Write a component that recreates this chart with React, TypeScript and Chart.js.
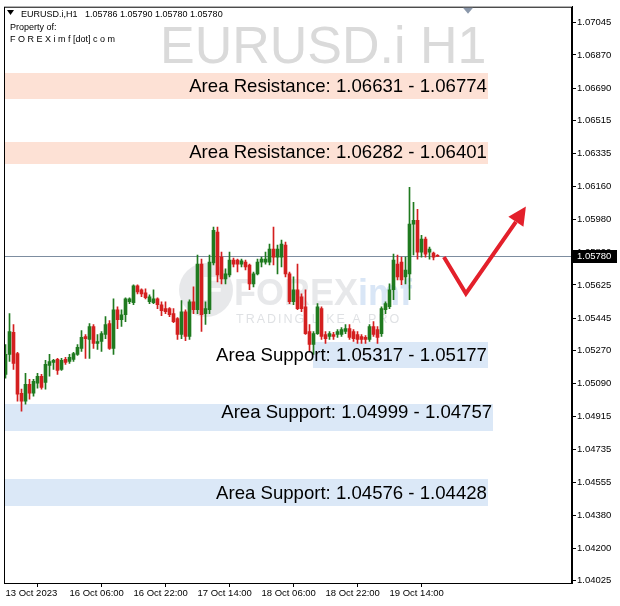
import React, { useEffect, useRef } from "react";
import { Chart, registerables } from "chart.js";

Chart.register(...registerables);

const FONT = "'Liberation Sans', Arial, sans-serif";

// ---- header / titles ----
const symbolTitle = "EURUSD.i,H1";
const headerPrices = "1.05786 1.05790 1.05780 1.05780";
const ownerLine1 = "Property of:";
const ownerLine2 = "F O R E X i m f [dot] c o m";
const watermarkText = "EURUSD.i H1";

// ---- H1 candles (13 Oct 2023 14:00 -> 20 Oct 02:00) ----
const opens = [
  1.05141, 1.05249, 1.05368, 1.05254, 1.05039, 1.04996, 1.05087, 1.05039, 1.05093, 1.05131,
  1.05098, 1.0519, 1.05206, 1.05222, 1.05168, 1.05222, 1.05211, 1.05222, 1.05249, 1.05282,
  1.05346, 1.0533, 1.054, 1.05308, 1.05319, 1.05357, 1.05416, 1.05282, 1.05491, 1.05437,
  1.05464, 1.05534, 1.05529, 1.0562, 1.05599, 1.05583, 1.05534, 1.05529, 1.0555, 1.05518,
  1.05497, 1.05497, 1.0547, 1.05443, 1.05357, 1.0548, 1.05346, 1.05534, 1.05491, 1.05738,
  1.0547, 1.05491, 1.05744, 1.05911, 1.05776, 1.05658, 1.05679, 1.0576, 1.0576, 1.05738,
  1.05749, 1.05733, 1.05631, 1.05685, 1.05749, 1.05749, 1.05749, 1.05819, 1.05776, 1.05776,
  1.05841, 1.05685, 1.05534, 1.05599, 1.05561, 1.05507, 1.05373, 1.05303, 1.05362, 1.05497,
  1.05357, 1.05346, 1.05357, 1.05357, 1.05357, 1.05373, 1.05389, 1.05373, 1.05357, 1.05346,
  1.05341, 1.0533, 1.054, 1.05384, 1.05362, 1.05491, 1.05507, 1.05599, 1.05738, 1.05749,
  1.05669, 1.05685, 1.05954, 1.05975, 1.05803, 1.05873, 1.05803, 1.05798, 1.05786,
];
const highs = [
  1.05303, 1.0547, 1.05411, 1.0526, 1.05061, 1.05147, 1.05114, 1.05114, 1.05147, 1.05141,
  1.05217, 1.05249, 1.05222, 1.05228, 1.05228, 1.05233, 1.05249, 1.0526, 1.05303, 1.05378,
  1.05357, 1.05416, 1.05411, 1.05357, 1.05373, 1.05454, 1.05432, 1.0555, 1.05507, 1.05491,
  1.05556, 1.05556, 1.05626, 1.05626, 1.05604, 1.05604, 1.05572, 1.05599, 1.05556, 1.05534,
  1.05534, 1.05502, 1.05497, 1.05448, 1.0554, 1.05491, 1.05545, 1.05615, 1.05787, 1.05765,
  1.05534, 1.05787, 1.05938, 1.05938, 1.05803, 1.05712, 1.05803, 1.05771, 1.05765, 1.05765,
  1.0576, 1.05738, 1.05695, 1.05765, 1.05776, 1.05803, 1.05846, 1.05938, 1.05841, 1.05868,
  1.05857, 1.05695, 1.05669, 1.05738, 1.05577, 1.05599, 1.05411, 1.05373, 1.05524, 1.05507,
  1.05373, 1.05373, 1.05368, 1.05384, 1.05394, 1.05411, 1.05411, 1.05384, 1.05373, 1.05357,
  1.05351, 1.05411, 1.05427, 1.054, 1.05507, 1.05534, 1.05631, 1.05792, 1.05787, 1.05776,
  1.05776, 1.06153, 1.06072, 1.06034, 1.05894, 1.05884, 1.0583, 1.05803, 1.0579,
];
const lows = [
  1.0512, 1.05211, 1.05168, 1.04996, 1.04942, 1.0498, 1.05007, 1.05023, 1.05066, 1.05061,
  1.05061, 1.05131, 1.05168, 1.05141, 1.05163, 1.05195, 1.05201, 1.05211, 1.05244, 1.05265,
  1.05228, 1.05228, 1.05282, 1.05276, 1.05265, 1.05335, 1.05276, 1.05249, 1.05389, 1.054,
  1.05427, 1.05524, 1.05518, 1.05577, 1.05561, 1.0555, 1.05524, 1.05524, 1.05497, 1.05459,
  1.0547, 1.05454, 1.05421, 1.0533, 1.05335, 1.05324, 1.0533, 1.0547, 1.0547, 1.05373,
  1.05411, 1.0547, 1.05733, 1.05642, 1.05631, 1.05631, 1.05669, 1.05722, 1.05695, 1.05722,
  1.05706, 1.05599, 1.05615, 1.05679, 1.05722, 1.05738, 1.05733, 1.05733, 1.05685, 1.05722,
  1.05669, 1.05524, 1.05518, 1.05491, 1.0548, 1.05357, 1.05265, 1.05249, 1.05357, 1.0533,
  1.05308, 1.0533, 1.0533, 1.05341, 1.05346, 1.05362, 1.0533, 1.05319, 1.05308, 1.05308,
  1.05308, 1.05319, 1.05346, 1.05308, 1.05346, 1.0547, 1.05497, 1.05545, 1.05652, 1.05626,
  1.05631, 1.05545, 1.05787, 1.05765, 1.05776, 1.05776, 1.05765, 1.0576, 1.0578,
];
const closes = [
  1.05249, 1.05373, 1.05201, 1.05034, 1.04996, 1.05087, 1.05039, 1.05104, 1.05131, 1.05071,
  1.05195, 1.05211, 1.05217, 1.05163, 1.05217, 1.05206, 1.05233, 1.05254, 1.05287, 1.05341,
  1.05335, 1.054, 1.05308, 1.05319, 1.05362, 1.05411, 1.05282, 1.05491, 1.05437, 1.05464,
  1.0555, 1.0555, 1.0562, 1.05588, 1.05577, 1.05556, 1.05561, 1.0555, 1.05518, 1.05486,
  1.0548, 1.05464, 1.05427, 1.05357, 1.0548, 1.05346, 1.05534, 1.05491, 1.05738, 1.05464,
  1.05497, 1.05749, 1.05921, 1.05679, 1.05658, 1.05685, 1.0576, 1.05738, 1.05738, 1.05755,
  1.05722, 1.05631, 1.05685, 1.05749, 1.05765, 1.05765, 1.05819, 1.05776, 1.05819, 1.05846,
  1.05685, 1.05534, 1.05599, 1.05497, 1.05497, 1.05362, 1.05303, 1.05362, 1.05507, 1.05346,
  1.05335, 1.05362, 1.05346, 1.05373, 1.05384, 1.05389, 1.05341, 1.05335, 1.0533, 1.0533,
  1.0533, 1.054, 1.05357, 1.05341, 1.05497, 1.05524, 1.05599, 1.0576, 1.05669, 1.05652,
  1.05706, 1.05954, 1.05975, 1.05803, 1.05873, 1.05792, 1.05819, 1.05776, 1.0578,
];

// ---- axes ----
const xTickIndex = [0, 16, 32, 48, 64, 80, 96];
const xTickLabels = [
  "13 Oct 2023",
  "16 Oct 06:00",
  "16 Oct 22:00",
  "17 Oct 14:00",
  "18 Oct 06:00",
  "18 Oct 22:00",
  "19 Oct 14:00",
];
const yTickValues = [
  1.07045, 1.0687, 1.0669, 1.06515, 1.06335, 1.0616, 1.0598, 1.058, 1.05625, 1.05445,
  1.0527, 1.0509, 1.04915, 1.04735, 1.04555, 1.0438, 1.042, 1.04025,
];
const xMin = -0.375;
const xMax = 141.625;
const yMin = 1.04012;
const yMax = 1.07131;
const currentPrice = 1.0578;

// ---- zones ----
const zoneLabels = [
  "Area Resistance: 1.06631 - 1.06774",
  "Area Resistance: 1.06282 - 1.06401",
  "Area Support: 1.05317 - 1.05177",
  "Area Support: 1.04999 - 1.04757",
  "Area Support: 1.04576 - 1.04428",
];
const zoneIsResistance = [true, true, false, false, false];
const zoneLow = [1.06631, 1.06282, 1.05177, 1.04835, 1.04428];
const zoneHigh = [1.06774, 1.06401, 1.05317, 1.0498, 1.04576];
const zoneStart = [-0.375, -0.375, 76.9, -0.375, -0.375];
const zoneEnd = [120.6, 120.6, 120.6, 121.9, 120.6];
const zoneLabelPrice = [1.06695, 1.06338, 1.05242, 1.04932, 1.04497];

// ---- projected arrow ----
const arrowX = [109.6, 115.1, 127.6];
const arrowY = [1.05776, 1.05579, 1.05967];
const arrowTipX = 130.1;
const arrowTipY = 1.0605;

const GREEN = "#1f7a1f";
const RED = "#d41f1f";
const ARROW = "#e3202b";

const overlay = {
  id: "overlay",
  beforeDatasetsDraw(chart: any) {
    const { ctx, chartArea: a, scales } = chart;
    const x = scales.x;
    const y = scales.y;
    ctx.save();
    ctx.beginPath();
    ctx.rect(a.left, a.top, a.right - a.left, a.bottom - a.top);
    ctx.clip();

    // big symbol watermark
    ctx.font = `52px ${FONT}`;
    ctx.fillStyle = "#dadada";
    ctx.textAlign = "left";
    ctx.textBaseline = "alphabetic";
    ctx.fillText(watermarkText, 160, 63);

    // zones
    for (let i = 0; i < zoneLabels.length; i++) {
      const x0 = x.getPixelForValue(zoneStart[i]);
      const x1 = x.getPixelForValue(zoneEnd[i]);
      const y0 = y.getPixelForValue(zoneHigh[i]);
      const y1 = y.getPixelForValue(zoneLow[i]);
      ctx.fillStyle = zoneIsResistance[i] ? "#fde1d5" : "#dbe8f7";
      ctx.fillRect(Math.round(x0), Math.round(y0), Math.round(x1 - x0), Math.round(y1 - y0));
    }

    // logo watermark
    ctx.fillStyle = "rgba(185,188,196,0.35)";
    ctx.beginPath();
    ctx.arc(206, 290, 27, 0, Math.PI * 2);
    ctx.fill();
    ctx.fillStyle = "rgba(255,255,255,0.85)";
    ctx.font = `bold 34px ${FONT}`;
    ctx.textAlign = "center";
    ctx.textBaseline = "middle";
    ctx.fillText("F", 212, 291);
    ctx.textAlign = "left";
    ctx.textBaseline = "alphabetic";
    ctx.font = `bold 36px ${FONT}`;
    ctx.fillStyle = "rgba(185,188,196,0.35)";
    ctx.fillText("FOREX", 234, 305);
    const w = ctx.measureText("FOREX").width;
    ctx.fillStyle = "rgba(170,200,235,0.45)";
    ctx.fillText("imf", 234 + w, 305);
    ctx.font = `12.5px ${FONT}`;
    (ctx as any).letterSpacing = "2px";
    ctx.fillStyle = "rgba(185,188,196,0.45)";
    ctx.fillText("TRADING LIKE A PRO", 236, 323);
    (ctx as any).letterSpacing = "0px";

    // current price line
    const py = Math.round(y.getPixelForValue(currentPrice)) + 0.5;
    ctx.strokeStyle = "#7d8da0";
    ctx.lineWidth = 1;
    ctx.beginPath();
    ctx.moveTo(a.left, py);
    ctx.lineTo(a.right, py);
    ctx.stroke();
    ctx.restore();
  },
  afterDatasetsDraw(chart: any) {
    const { ctx, scales } = chart;
    const x = scales.x;
    const y = scales.y;
    ctx.save();
    // zone labels
    ctx.font = `18.6px ${FONT}`;
    ctx.fillStyle = "#000000";
    ctx.textAlign = "right";
    ctx.textBaseline = "middle";
    for (let i = 0; i < zoneLabels.length; i++) {
      const xr = x.getPixelForValue(zoneEnd[i]) - 1;
      const ym = y.getPixelForValue(zoneLabelPrice[i]);
      ctx.fillText(zoneLabels[i], xr, ym);
    }
    // arrow head
    const n = arrowX.length - 1;
    const bx = x.getPixelForValue(arrowX[n]);
    const by = y.getPixelForValue(arrowY[n]);
    const tx = x.getPixelForValue(arrowTipX);
    const ty = y.getPixelForValue(arrowTipY);
    const dx = tx - bx;
    const dy = ty - by;
    const len = Math.hypot(dx, dy) || 1;
    const nx = -dy / len;
    const ny = dx / len;
    const hw = 9;
    ctx.fillStyle = ARROW;
    ctx.beginPath();
    ctx.moveTo(tx, ty);
    ctx.lineTo(bx + nx * hw, by + ny * hw);
    ctx.lineTo(bx - nx * hw, by - ny * hw);
    ctx.closePath();
    ctx.fill();
    ctx.restore();
  },
  afterDraw(chart: any) {
    const { ctx, chartArea: a, scales } = chart;
    const y = scales.y;
    ctx.save();
    // frame
    ctx.strokeStyle = "#000";
    ctx.lineWidth = 1;
    ctx.strokeRect(a.left + 0.5, a.top + 0.5, a.right - a.left - 1, a.bottom - a.top);

    // current price label
    const py = Math.round(y.getPixelForValue(currentPrice)) + 0.5;
    ctx.fillStyle = "#000";
    ctx.fillRect(a.right + 1, py - 6.5, 44, 13);
    ctx.fillStyle = "#fff";
    ctx.font = `9.5px ${FONT}`;
    ctx.textAlign = "left";
    ctx.textBaseline = "middle";
    ctx.fillText(currentPrice.toFixed(5), a.right + 5, py);

    // header
    ctx.fillStyle = "#000";
    ctx.font = `9px ${FONT}`;
    ctx.beginPath();
    ctx.moveTo(7, 10);
    ctx.lineTo(14, 10);
    ctx.lineTo(10.5, 15);
    ctx.closePath();
    ctx.fill();
    ctx.textBaseline = "alphabetic";
    ctx.fillText(symbolTitle, 21, 17);
    ctx.fillText(headerPrices, 85, 17);
    ctx.fillText(ownerLine1, 10, 30);
    ctx.fillText(ownerLine2, 10, 42);

    // chart shift marker
    ctx.fillStyle = "#8a97aa";
    ctx.beginPath();
    ctx.moveTo(463, a.top + 1);
    ctx.lineTo(473, a.top + 1);
    ctx.lineTo(468, a.top + 7);
    ctx.closePath();
    ctx.fill();
    ctx.restore();
  },
};

export default function App() {
  const ref = useRef<HTMLCanvasElement>(null);
  useEffect(() => {
    document.body.style.margin = "0";
    const idx = opens.map((_, i) => i);
    const colorFor = (c: any) => {
      const i = c.dataIndex;
      return closes[i] >= opens[i] ? GREEN : RED;
    };
    const chart = new Chart(ref.current as HTMLCanvasElement, {
      type: "bar",
      data: {
        datasets: [
          {
            type: "line",
            data: arrowX.map((v, i) => ({ x: v, y: arrowY[i] })),
            borderColor: ARROW,
            borderWidth: 4,
            pointRadius: 0,
            borderJoinStyle: "miter",
            borderCapStyle: "butt",
            tension: 0,
          } as any,
          {
            data: idx.map((i) => ({ x: i, y: [opens[i], closes[i]] })),
            backgroundColor: colorFor,
            borderWidth: 0,
            barThickness: 3,
            minBarLength: 1,
            grouped: false,
          } as any,
          {
            data: idx.map((i) => ({ x: i, y: [lows[i], highs[i]] })),
            backgroundColor: colorFor,
            borderWidth: 0,
            barThickness: 1,
            minBarLength: 1,
            grouped: false,
          } as any,
        ],
      },
      options: {
        animation: false,
        responsive: false,
        devicePixelRatio: 1,
        layout: { padding: { left: 4, top: 3, right: 0, bottom: 0 } },
        plugins: { legend: { display: false }, tooltip: { enabled: false } },
        scales: {
          x: {
            type: "linear",
            min: xMin,
            max: xMax,
            offset: false,
            grid: { drawOnChartArea: false, color: "#000", tickLength: 4 },
            border: { color: "#000" },
            afterBuildTicks: (s: any) => {
              s.ticks = xTickIndex.map((v) => ({ value: v }));
            },
            afterFit: (s: any) => {
              s.height = 23;
            },
            ticks: {
              autoSkip: false,
              maxRotation: 0,
              minRotation: 0,
              align: "start",
              labelOffset: 0,
              padding: 1,
              color: "#000",
              font: { family: FONT, size: 9.5 },
              callback: (_v: any, i: number) => xTickLabels[i],
            },
          },
          y: {
            type: "linear",
            position: "right",
            min: yMin,
            max: yMax,
            grid: { drawOnChartArea: false, color: "#000", tickLength: 4 },
            border: { color: "#000" },
            afterBuildTicks: (s: any) => {
              s.ticks = yTickValues.map((v) => ({ value: v }));
            },
            afterFit: (s: any) => {
              s.width = 48;
            },
            ticks: {
              autoSkip: false,
              padding: 1,
              color: "#000",
              font: { family: FONT, size: 9.5 },
              callback: (v: any) => Number(v).toFixed(5),
            },
          },
        },
      } as any,
      plugins: [overlay],
    });
    return () => chart.destroy();
  }, []);
  return (
    <canvas
      ref={ref}
      width={620}
      height={606}
      style={{ display: "block", width: 620, height: 606 }}
    />
  );
}
